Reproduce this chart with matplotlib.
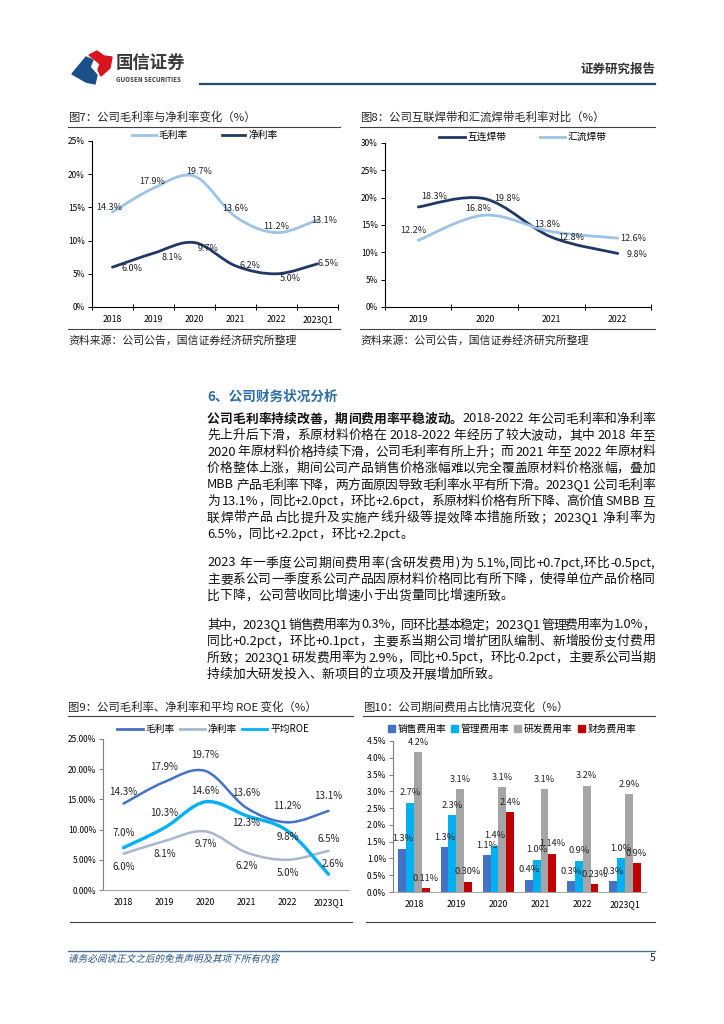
import re

import matplotlib
matplotlib.use("Agg")
import matplotlib.pyplot as plt
import numpy as np
from matplotlib.font_manager import FontProperties
from matplotlib.lines import Line2D
from matplotlib.patches import PathPatch, Polygon, Rectangle
from matplotlib.path import Path
from matplotlib.textpath import TextPath
from matplotlib.transforms import Affine2D

FAMILY = ["Noto Sans CJK SC", "DejaVu Sans"]
plt.rcParams["font.family"] = FAMILY

# ---- data -------------------------------------------------------------
years6 = ["2018", "2019", "2020", "2021", "2022", "2023Q1"]
years4 = ["2019", "2020", "2021", "2022"]

gross_margin = [14.3, 17.9, 19.7, 13.6, 11.2, 13.1]
net_margin = [6.0, 8.1, 9.7, 6.2, 5.0, 6.5]
avg_roe = [7.0, 10.3, 14.6, 12.3, 9.8, 2.6]

ribbon_interconnect = [18.3, 19.8, 12.8, 9.8]   # 互连焊带
ribbon_busbar = [12.2, 16.8, 13.8, 12.6]        # 汇流焊带

sales_exp = [1.29, 1.34, 1.10, 0.37, 0.32, 0.32]
admin_exp = [2.66, 2.28, 1.38, 0.96, 0.93, 1.01]
rd_exp = [4.16, 3.06, 3.12, 3.06, 3.16, 2.91]
fin_exp = [0.11, 0.30, 2.37, 1.14, 0.23, 0.85]
fin_exp_labels = ["0.11%", "0.30%", "2.4%", "1.14%", "0.23%", "0.9%"]

# ---- page helpers (pixel coordinates, y from top) ----------------------
W, H = 724, 1024
fig = plt.figure(figsize=(W / 100, H / 100), dpi=100)
fig.patch.set_facecolor("white")
renderer = fig.canvas.get_renderer()


def fx(x):
    return x / W


def fy(y):
    return 1 - y / H


def add_ax(l, t, r, b):
    return fig.add_axes([fx(l), fy(b), (r - l) / W, (b - t) / H])


def hline(x0, x1, y, color="#404040", lw=0.8):
    fig.add_artist(Line2D([fx(x0), fx(x1)], [fy(y), fy(y)], color=color, lw=lw))


def ftext(x, y, s, **kw):
    kw.setdefault("va", "center")
    return fig.text(fx(x), fy(y), s, **kw)


TOKEN_RE = re.compile(r"[\x21-\x7e]+|\s+|.")


def text_width(s, size, weight):
    prop = FontProperties(family=FAMILY, size=size, weight=weight)
    w, _, _ = renderer.get_text_width_height_descent(s, prop, ismath=False)
    return w


def draw_line(segs, y, x0=207, x1=655, justify=True, size=9.2):
    toks = []
    for text, weight in segs:
        toks += [(t, weight) for t in TOKEN_RE.findall(text)]
    widths = [text_width(t, size, w) for t, w in toks]
    gap = 0
    if justify and len(toks) > 1:
        gap = (x1 - x0 - sum(widths)) / (len(toks) - 1)
    x = x0
    for (t, w), tw in zip(toks, widths):
        if not t.isspace():
            ftext(x, y, t, fontsize=size, weight=w, ha="left", color="#111111")
        x += tw + gap


def smooth_path(xs, ys):
    pts = np.column_stack([xs, ys]).astype(float)
    n = len(pts)
    verts, codes = [pts[0]], [Path.MOVETO]
    for i in range(n - 1):
        p0 = pts[max(i - 1, 0)]
        p1, p2 = pts[i], pts[i + 1]
        p3 = pts[min(i + 2, n - 1)]
        verts += [p1 + (p2 - p0) / 6, p2 - (p3 - p1) / 6, p2]
        codes += [Path.CURVE4] * 3
    return Path(verts, codes)


def smooth_line(ax, ys, color, lw):
    ax.add_patch(PathPatch(smooth_path(np.arange(len(ys)), ys), fill=False,
                           edgecolor=color, lw=lw, capstyle="round", zorder=3))


def point_labels(ax, ys, offsets, size=6.5):
    for i, (v, (dx, dy)) in enumerate(zip(ys, offsets)):
        ax.annotate(f"{v:.1f}%", (i, v), xytext=(dx, dy), textcoords="offset pixels",
                    ha="center", va="center", fontsize=size, color="#222222", zorder=5)


def style_axes(ax, cats, ymax, ystep, fmt, spine="#000000", boundary_ticks=True):
    n = len(cats)
    ax.set_xlim(-0.5, n - 0.5)
    ax.set_ylim(0, ymax)
    ticks = np.arange(0, ymax + ystep / 2, ystep)
    ax.set_yticks(ticks)
    ax.set_yticklabels([fmt(v) for v in ticks], fontsize=6)
    ax.set_xticks(range(n))
    ax.set_xticklabels(cats, fontsize=6.3)
    ax.tick_params(axis="x", which="major", length=0, pad=6)
    ax.tick_params(axis="y", length=3, width=0.7, color=spine, pad=2)
    if boundary_ticks:
        ax.set_xticks(np.arange(-0.5, n, 1), minor=True)
        ax.tick_params(axis="x", which="minor", length=4, width=0.7, direction="inout", color=spine)
    for s in ("top", "right"):
        ax.spines[s].set_visible(False)
    for s in ("left", "bottom"):
        ax.spines[s].set_color(spine)
        ax.spines[s].set_linewidth(0.8)
    ax.set_facecolor("none")


# ---- header --------------------------------------------------------------
fig.add_artist(Polygon([(fx(x), fy(y)) for x, y in
                        [(72, 74), (86, 57), (93, 60), (90, 67), (97, 75), (95, 84), (86, 82)]],
                       closed=True, color="#1B4F8A", transform=fig.transFigure))
fig.add_artist(Polygon([(fx(x), fy(y)) for x, y in
                        [(89, 55), (97, 51), (104, 56), (112, 57), (110, 68), (101, 76),
                         (98, 70), (100, 64), (94, 59)]],
                       closed=True, color="#D7141E", transform=fig.transFigure))
ftext(116, 63, "国信证券", fontsize=12.5, weight="bold", color="#3a3a3a")
ftext(116, 79, "GUOSEN SECURITIES", fontsize=4.5, weight="bold", color="#3a3a3a")
ftext(655, 69, "证券研究报告", fontsize=9, weight="bold", color="#333333", ha="right")
hline(200, 655, 84, color="#1F4E79", lw=1.6)

# ---- chart 7 -------------------------------------------------------------
ftext(68, 117, "图7：公司毛利率与净利率变化（%）", fontsize=8.2, color="#222222")
hline(68, 340, 127)
ax7 = add_ax(92, 141, 338, 307)
style_axes(ax7, years6, 25, 5, lambda v: f"{v:.0f}%")
c_light, c_navy = "#9DC3E6", "#1F3864"
smooth_line(ax7, gross_margin, c_light, 2.0)
smooth_line(ax7, net_margin, c_navy, 2.0)
point_labels(ax7, gross_margin, [(-3, 5), (-1, 7), (5, 5), (0, 8), (0, 6), (7, 0)])
point_labels(ax7, net_margin, [(20, -1), (19, -4), (14, -6), (14, 0), (14, -5), (11, 0)])
fig.legend([Line2D([], [], color=c_light, lw=2), Line2D([], [], color=c_navy, lw=2)],
           ["毛利率", "净利率"], loc="center", bbox_to_anchor=(fx(205), fy(135)), ncol=2,
           frameon=False, fontsize=7, handlelength=2.4, columnspacing=3.5, handletextpad=0.3)
hline(68, 340, 329)
ftext(68, 340, "资料来源：公司公告，国信证券经济研究所整理", fontsize=7.8, color="#222222")

# ---- chart 8 -------------------------------------------------------------
ftext(360, 117, "图8：公司互联焊带和汇流焊带毛利率对比（%）", fontsize=8.2, color="#222222")
hline(360, 655, 127)
ax8 = add_ax(385, 143, 651, 307)
style_axes(ax8, years4, 30, 5, lambda v: f"{v:.0f}%")
smooth_line(ax8, ribbon_interconnect, c_navy, 2.0)
smooth_line(ax8, ribbon_busbar, c_light, 2.0)
point_labels(ax8, ribbon_interconnect, [(16, 10), (22, 0), (20, 0), (19, -1)])
point_labels(ax8, ribbon_busbar, [(-5, 10), (-7, 7), (-4, 7), (15, 0)])
fig.legend([Line2D([], [], color=c_navy, lw=2), Line2D([], [], color=c_light, lw=2)],
           ["互连焊带", "汇流焊带"], loc="center", bbox_to_anchor=(fx(523), fy(137)), ncol=2,
           frameon=False, fontsize=7, handlelength=2.6, columnspacing=3.4, handletextpad=0.3)
hline(360, 655, 329)
ftext(360, 340, "资料来源：公司公告，国信证券经济研究所整理", fontsize=7.8, color="#222222")

# ---- body text -----------------------------------------------------------
ftext(207, 397, "6、公司财务状况分析", fontsize=9.8, weight="bold", color="#2F6EA5")

paras = [
    [
        [("公司毛利率持续改善，期间费用率平稳波动。", "bold"), ("2018-2022 年公司毛利率和净利率", "normal")],
        "先上升后下滑，系原材料价格在 2018-2022 年经历了较大波动，其中 2018 年至",
        "2020 年原材料价格持续下滑，公司毛利率有所上升；而 2021 年至 2022 年原材料",
        "价格整体上涨，期间公司产品销售价格涨幅难以完全覆盖原材料价格涨幅，叠加",
        "MBB 产品毛利率下降，两方面原因导致毛利率水平有所下滑。2023Q1 公司毛利率",
        "为 13.1%，同比+2.0pct，环比+2.6pct，系原材料价格有所下降、高价值 SMBB 互",
        "联焊带产品占比提升及实施产线升级等提效降本措施所致；2023Q1 净利率为",
        "6.5%，同比+2.2pct，环比+2.2pct。",
    ],
    [
        "2023 年一季度公司期间费用率(含研发费用)为 5.1%,同比+0.7pct,环比-0.5pct,",
        "主要系公司一季度系公司产品因原材料价格同比有所下降，使得单位产品价格同",
        "比下降，公司营收同比增速小于出货量同比增速所致。",
    ],
    [
        "其中，2023Q1 销售费用率为 0.3%，同环比基本稳定；2023Q1 管理费用率为 1.0%，",
        "同比+0.2pct，环比+0.1pct，主要系当期公司增扩团队编制、新增股份支付费用",
        "所致；2023Q1 研发费用率为 2.9%，同比+0.5pct，环比-0.2pct，主要系公司当期",
        "持续加大研发投入、新项目的立项及开展增加所致。",
    ],
]
para_top = [419, 563, 625]
line_gap = 16.5
for top, lines in zip(para_top, paras):
    for k, ln in enumerate(lines):
        segs = ln if isinstance(ln, list) else [(ln, "normal")]
        draw_line(segs, top + k * line_gap, justify=(k < len(lines) - 1))

# ---- chart 9 -------------------------------------------------------------
ftext(68, 707, "图9：公司毛利率、净利率和平均 ROE 变化（%）", fontsize=8.2, color="#222222")
hline(68, 353, 716)
ax9 = add_ax(103, 739, 349, 890)
style_axes(ax9, years6, 25, 5, lambda v: f"{v:.2f}%", spine="#7f7f7f", boundary_ticks=False)
ax9.spines["bottom"].set_color("#a6a6a6")
c_gm, c_nm, c_roe = "#4472C4", "#A9B7CC", "#00B0F0"
smooth_line(ax9, gross_margin, c_gm, 1.8)
smooth_line(ax9, net_margin, c_nm, 1.8)
smooth_line(ax9, avg_roe, c_roe, 2.4)
point_labels(ax9, gross_margin, [(0, 12), (0, 15), (0, 16), (0, 15), (0, 16), (0, 15)], size=7)
point_labels(ax9, avg_roe, [(0, 15), (0, 15), (0, 11), (0, -7), (0, -6), (4, 10)], size=7)
point_labels(ax9, net_margin, [(0, -13)] * 5 + [(0, 12)], size=7)
fig.legend([Line2D([], [], color=c_gm, lw=2), Line2D([], [], color=c_nm, lw=2),
            Line2D([], [], color=c_roe, lw=2)],
           ["毛利率", "净利率", "平均ROE"], loc="center", bbox_to_anchor=(fx(213), fy(729)),
           ncol=3, frameon=False, fontsize=7, handlelength=2.6, columnspacing=0.5,
           handletextpad=0.3)
hline(70, 352, 922)

# ---- chart 10 ------------------------------------------------------------
ftext(363, 707, "图10：公司期间费用占比情况变化（%）", fontsize=8.2, color="#222222")
hline(363, 655, 716)
ax10 = add_ax(393, 741, 646, 892)
style_axes(ax10, years6, 4.5, 0.5, lambda v: f"{v:.1f}%", spine="#7f7f7f", boundary_ticks=False)
ax10.spines["bottom"].set_color("#a6a6a6")
x = np.arange(len(years6))
bw = 0.185
series10 = [
    ("销售费用率", sales_exp, "#4472C4", None),
    ("管理费用率", admin_exp, "#00B0F0", None),
    ("研发费用率", rd_exp, "#A5A5A5", None),
    ("财务费用率", fin_exp, "#C00000", fin_exp_labels),
]
handles = []
for k, (name, vals, color, labs) in enumerate(series10):
    xs = x + (k - 1.5) * bw
    ax10.bar(xs, vals, width=bw, color=color, zorder=2)
    labs = labs or [f"{v:.1f}%" for v in vals]
    for xi, v, lab in zip(xs, vals, labs):
        ax10.annotate(lab, (xi, v), xytext=(0, 10), textcoords="offset pixels",
                      ha="center", va="center", fontsize=6.6, color="#222222", zorder=5)
    handles.append(Rectangle((0, 0), 1, 1, color=color))
fig.legend(handles, [s[0] for s in series10], loc="center", bbox_to_anchor=(fx(512), fy(729)),
           ncol=4, frameon=False, fontsize=7, handlelength=0.7, handleheight=0.7,
           columnspacing=0.5, handletextpad=0.3)
hline(366, 655, 922)

# ---- footer --------------------------------------------------------------
hline(68, 655, 951, color="#4A6F8F", lw=1.0)
foot = TextPath((0, 0), "请务必阅读正文之后的免责声明及其项下所有内容", size=9.6,
                prop=FontProperties(family=FAMILY))
fig.add_artist(PathPatch(foot, transform=Affine2D().skew_deg(14, 0).translate(68, H - 962),
                         color="#1F4E79", lw=0))
ftext(655, 958, "5", fontsize=7.5, ha="right", color="#222222")

fig.savefig("out.png", dpi=100)
